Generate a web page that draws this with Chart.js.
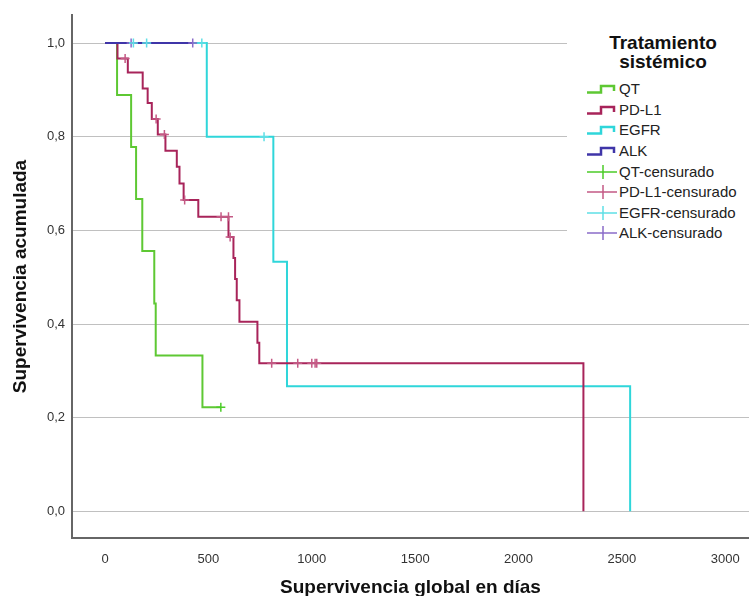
<!DOCTYPE html>
<html>
<head>
<meta charset="utf-8">
<script src="https://cdn.jsdelivr.net/npm/chart.js@4"></script>
<style>
  html, body { margin: 0; padding: 0; overflow: hidden; background: #fff; font-family: "Liberation Sans", Arial, sans-serif; }
  #wrap { position: relative; width: 749px; height: 596px; overflow: hidden; }
  #kmChart { display: block; }
  #legend { position: absolute; left: 567px; top: 25px; width: 182px; height: 222px; background: #fff; }
  #legend .title { position: absolute; left: 0; width: 192px; top: 8px; text-align: center; font-weight: bold; font-size: 19px; line-height: 19px; color: #111; }
  #legend .item { position: absolute; left: 20px; height: 20px; font-size: 15px; line-height: 20px; color: #222; white-space: nowrap; }
  #legend svg { vertical-align: middle; margin-right: 2px; margin-top: -3px; }
</style>
</head>
<body>
<div id="wrap">
  <!-- 6px más ancho: Chart.js reserva ese margen para las cruces -->
  <canvas id="kmChart" width="755" height="596"></canvas>
  <div id="legend"></div>
</div>
<script>
// ejes
const xTicks = [0, 500, 1000, 1500, 2000, 2500, 3000];
const yTicks = [0, 0.2, 0.4, 0.6, 0.8, 1.0];

// grupos
const groups = ['QT', 'PD-L1', 'EGFR', 'ALK'];

// QT
const qtDays = [0, 58, 126, 150, 180, 238, 245, 471, 560];
const qtSurv = [1, 0.889, 0.778, 0.667, 0.556, 0.444, 0.333, 0.222, 0.222];
const qtCensDays = [560];
const qtCensSurv = [0.222];

// PD-L1
const pdDays = [0, 60, 110, 182, 206, 226, 255, 292, 347, 360, 380, 451, 597, 621, 629, 637, 650, 737, 746, 2314];
const pdSurv = [1, 0.967, 0.937, 0.903, 0.872, 0.838, 0.805, 0.770, 0.736, 0.700, 0.665, 0.629, 0.586, 0.541, 0.496, 0.451, 0.405, 0.360, 0.316, 0];
const pdCensDays = [97, 247, 287, 385, 561, 597, 605, 806, 932, 1000, 1016, 1024];
const pdCensSurv = [0.967, 0.838, 0.805, 0.665, 0.629, 0.629, 0.586, 0.316, 0.316, 0.316, 0.316, 0.316];

// EGFR
const egfrDays = [0, 492, 814, 880, 2540];
const egfrSurv = [1, 0.8, 0.533, 0.267, 0];
const egfrCensDays = [137, 201, 468, 769];
const egfrCensSurv = [1, 1, 1, 0.8];

// ALK
const alkDays = [0, 424];
const alkSurv = [1, 1];
const alkCensDays = [126, 424];
const alkCensSurv = [1, 1];

const lineColors = ['#5ec833', '#a8245a', '#2fd6da', '#3f35a8'];
const censColors = ['#4ccc28', '#c45a85', '#5fdfe6', '#8a6cc9'];

function pts(xs, ys) {
    return xs.map((x, i) => ({ x: x, y: ys[i] }));
}

const lineData = [pts(qtDays, qtSurv), pts(pdDays, pdSurv), pts(egfrDays, egfrSurv), pts(alkDays, alkSurv)];
const censData = [pts(qtCensDays, qtCensSurv), pts(pdCensDays, pdCensSurv), pts(egfrCensDays, egfrCensSurv), pts(alkCensDays, alkCensSurv)];
const lineOrder = [3, 2, 4, 1];

const datasets = [];
groups.forEach((g, i) => {
    datasets.push({
        label: g,
        data: lineData[i],
        borderColor: lineColors[i],
        borderWidth: 2,
        stepped: true,
        pointRadius: 0,
        fill: false,
        order: lineOrder[i]
    });
});
groups.forEach((g, i) => {
    datasets.push({
        label: g + '-censurado',
        data: censData[i],
        showLine: false,
        pointStyle: 'cross',
        pointRadius: 4.5,
        pointBorderWidth: 1.5,
        pointBorderColor: censColors[i],
        borderColor: censColors[i],
        order: 0
    });
});

const tickFont = { family: 'Liberation Sans', size: 13 };
const titleFont = { family: 'Liberation Sans', size: 19, weight: 'bold' };

new Chart(document.getElementById('kmChart'), {
    type: 'line',
    data: { datasets: datasets },
    options: {
        responsive: false,
        animation: false,
        layout: { padding: { top: 15, right: 0, left: 0, bottom: 0 } },
        plugins: { legend: { display: false }, tooltip: { enabled: false } },
        scales: {
            x: {
                type: 'linear',
                min: -160,
                max: 3115,
                afterBuildTicks: axis => { axis.ticks = xTicks.map(v => ({ value: v })); },
                afterFit: axis => { axis.height = 58; axis.paddingRight = 0; axis.paddingLeft = 0; },
                grid: { display: false },
                border: { display: true, color: '#666', width: 2 },
                ticks: { font: tickFont, color: '#333', padding: 6, maxRotation: 0, callback: v => String(v) },
                title: { display: true, text: 'Supervivencia global en días', font: titleFont, color: '#111', padding: { top: 0, bottom: -3 } }
            },
            y: {
                type: 'linear',
                min: -0.057,
                max: 1.06,
                afterBuildTicks: axis => { axis.ticks = yTicks.map(v => ({ value: v })); },
                afterFit: axis => { axis.width = 72; },
                grid: { color: '#c0c0c0', lineWidth: 1, drawTicks: false },
                border: { display: true, color: '#666', width: 2 },
                ticks: {
                    font: tickFont, color: '#333', padding: 7,
                    callback: v => v.toFixed(1).replace('.', ',')
                },
                title: { display: true, text: 'Supervivencia acumulada', font: titleFont, color: '#111', padding: { top: 9, bottom: 0 } }
            }
        }
    }
});

// leyenda
const legend = document.getElementById('legend');
legend.innerHTML = '<div class="title">Tratamiento<br>sistémico</div>';
const stepIcon = c => '<svg width="30" height="12"><path d="M0 9.5 H14 V3 H27 V8" fill="none" stroke="' + c + '" stroke-width="2.5"/></svg>';
const crossIcon = c => '<svg width="30" height="14"><path d="M0 7 H30 M16 0 V14" fill="none" stroke="' + c + '" stroke-width="1.5"/></svg>';
const rowY = [64, 85, 105, 126, 147, 167, 188, 208];
groups.forEach((g, i) => {
    const d = document.createElement('div');
    d.className = 'item';
    d.style.top = (rowY[i] - 10) + 'px';
    d.innerHTML = stepIcon(lineColors[i]) + g;
    legend.appendChild(d);
});
groups.forEach((g, i) => {
    const d = document.createElement('div');
    d.className = 'item';
    d.style.top = (rowY[i + 4] - 10) + 'px';
    d.innerHTML = crossIcon(censColors[i]) + g + '-censurado';
    legend.appendChild(d);
});
</script>
</body>
</html>
